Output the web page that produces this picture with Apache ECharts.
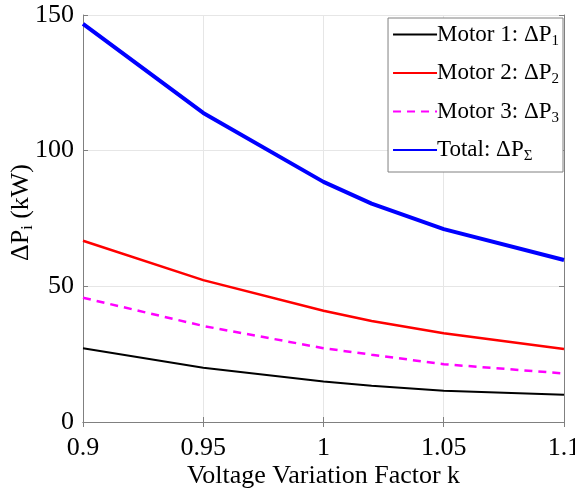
<!DOCTYPE html>
<html>
<head>
<meta charset="utf-8">
<script src="https://cdn.jsdelivr.net/npm/echarts@6/dist/echarts.min.js"></script>
<style>html,body{margin:0;padding:0;background:#fff}#c{width:575px;height:489px}</style>
</head>
<body>
<div id="c"></div>
<script>
const kValues = [0.9, 0.95, 1.0, 1.02, 1.05, 1.1];
const motor1 = [27.2, 20.0, 14.9, 13.4, 11.5, 10.0];
const motor2 = [66.8, 52.3, 41.0, 37.2, 32.7, 26.9];
const motor3 = [45.8, 35.4, 27.2, 24.8, 21.3, 17.9];
const total  = [146.7, 113.9, 88.5, 80.5, 71.1, 59.7];
const xTicks = [0.9, 0.95, 1, 1.05, 1.1];
const yTicks = [0, 50, 100, 150];

const FONT = 'Liberation Serif';
const pairs = arr => kValues.map((k, i) => [k, arr[i]]);
const chart = echarts.init(document.getElementById('c'));
const axisLineStyle = {color: '#808080', width: 1};
const baseX = {
  type: 'value', min: xTicks[0], max: xTicks[xTicks.length - 1], interval: 0.05,
  axisLine: {show: true, lineStyle: axisLineStyle},
  axisTick: {show: true, inside: true, length: 5, lineStyle: axisLineStyle}
};
const baseY = {
  type: 'value', min: yTicks[0], max: yTicks[yTicks.length - 1], interval: 50,
  axisLine: {show: true, lineStyle: axisLineStyle},
  axisTick: {show: true, inside: true, length: 5, lineStyle: axisLineStyle}
};
const rich = {
  b: {fontFamily: FONT, fontSize: 23, color: '#000', lineHeight: 28},
  s: {fontFamily: FONT, fontSize: 15, color: '#000', lineHeight: 12, verticalAlign: 'bottom'}
};
const names = ['Motor 1: ΔP1', 'Motor 2: ΔP2', 'Motor 3: ΔP3', 'Total: ΔPΣ'];
chart.setOption({
  animation: false,
  backgroundColor: '#fff',
  grid: {left: 83, right: 11, top: 15, bottom: 67, containLabel: false, outerBoundsMode: 'none'},
  legend: {
    orient: 'vertical', right: 12, top: 18,
    backgroundColor: '#fff', borderColor: '#808080', borderWidth: 1,
    padding: [5, 4, 8, 4], itemWidth: 44, itemHeight: 14, itemGap: 13,
    data: names,
    itemStyle: {opacity: 0},
    formatter: n => {
      const main = n.slice(0, -1), sub = n.slice(-1);
      return '{b|' + main + '}{s|' + sub + '}';
    },
    textStyle: {rich: rich, padding: [0, 0, 0, -5]}
  },
  xAxis: [
    Object.assign({}, baseX, {
      position: 'bottom',
      name: 'Voltage Variation Factor k', nameLocation: 'middle', nameGap: 41,
      nameMoveOverlap: false,
      nameTextStyle: {fontFamily: FONT, fontSize: 26, color: '#000'},
      axisLabel: {fontFamily: FONT, fontSize: 26, color: '#000', margin: 13,
        formatter: v => String(+v.toFixed(2))},
      splitLine: {show: true, lineStyle: {color: '#e6e6e6', width: 1}}
    }),
    Object.assign({}, baseX, {position: 'top', axisLabel: {show: false}, splitLine: {show: false}})
  ],
  yAxis: [
    Object.assign({}, baseY, {
      position: 'left',
      name: '{b|ΔP}{s|i}{b| (kW)}', nameLocation: 'middle', nameGap: 47, nameRotate: 90,
      nameMoveOverlap: false,
      nameTextStyle: {padding: [0, 0, 0, 12], rich: {
        b: {fontFamily: FONT, fontSize: 26, color: '#000', lineHeight: 30},
        s: {fontFamily: FONT, fontSize: 16, color: '#000', lineHeight: 12, verticalAlign: 'bottom'}
      }},
      axisLabel: {fontFamily: FONT, fontSize: 26, color: '#000', margin: 9},
      splitLine: {show: true, lineStyle: {color: '#e6e6e6', width: 1}}
    }),
    Object.assign({}, baseY, {position: 'right', axisLabel: {show: false}, splitLine: {show: false}})
  ],
  series: [
    {name: names[0], type: 'line', data: pairs(motor1), symbol: 'none',
      lineStyle: {color: '#000000', width: 2}, itemStyle: {color: '#000000'}},
    {name: names[1], type: 'line', data: pairs(motor2), symbol: 'none',
      lineStyle: {color: '#ff0000', width: 2.5}, itemStyle: {color: '#ff0000'}},
    {name: names[2], type: 'line', data: pairs(motor3), symbol: 'none',
      lineStyle: {color: '#ff00ff', width: 2.5, type: [8, 6]}, itemStyle: {color: '#ff00ff'}},
    {name: names[3], type: 'line', data: pairs(total), symbol: 'none',
      lineStyle: {color: '#0000ff', width: 4}, itemStyle: {color: '#0000ff'}}
  ]
});
</script>
</body>
</html>
